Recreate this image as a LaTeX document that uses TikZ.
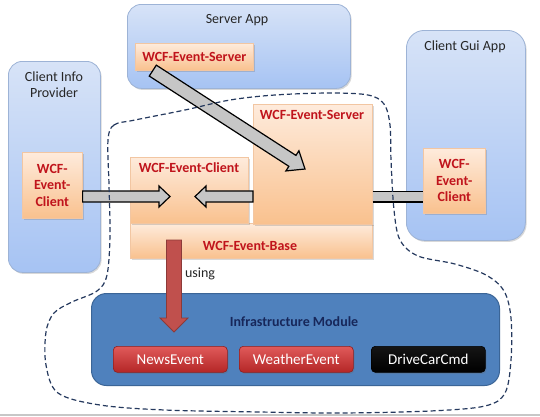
\documentclass[tikz,border=0pt]{standalone}
\usepackage{fontspec}
\setmainfont{Carlito}
\usetikzlibrary{calc,shadows}
\definecolor{apptop}{HTML}{D7E3F7}
\definecolor{appbot}{HTML}{A6C3F3}
\definecolor{appdraw}{HTML}{9DB3D6}
\definecolor{ortop}{HTML}{FEEBDC}
\definecolor{orbot}{HTML}{F9C18E}
\definecolor{ordraw}{HTML}{F2C6A2}
\definecolor{wcfred}{HTML}{C0141C}
\definecolor{infrafill}{HTML}{4F81BD}
\definecolor{infradraw}{HTML}{3B6597}
\definecolor{infratext}{HTML}{17275A}
\definecolor{btntop}{HTML}{E05A5A}
\definecolor{btnbot}{HTML}{B42626}
\definecolor{btndraw}{HTML}{8E1F1F}
\definecolor{arrgray}{HTML}{C6C6C6}
\definecolor{redarr}{HTML}{C0504D}
\definecolor{redarrdraw}{HTML}{8C3A38}
\definecolor{dashc}{HTML}{25395E}
\definecolor{titlec}{HTML}{262626}
% #1 style, #2 prefix, #3 from, #4 to, #5 shaft half width, #6 head half width, #7 head length
\newcommand\blockarrow[7]{%
  \coordinate (#2H) at ($(#4)!#7!(#3)$);
  \draw[#1] ($(#3)!#5!90:(#4)$) -- ($(#2H)!#5!90:(#4)$) -- ($(#2H)!#6!90:(#4)$)
    -- (#4) -- ($(#2H)!#6!-90:(#4)$) -- ($(#2H)!#5!-90:(#4)$) -- ($(#3)!#5!-90:(#4)$) -- cycle;
}
\begin{document}
\begin{tikzpicture}[x=1pt,y=-1pt,
  softshadow/.style={drop shadow={shadow xshift=1.2pt,shadow yshift=-1.5pt,opacity=0.25,fill=black!60}},
  app/.style={draw=appdraw,line width=0.8pt,rounded corners=14pt,top color=apptop,bottom color=appbot,inner sep=0pt,anchor=north west,softshadow},
  orbox/.style={draw=ordraw,line width=0.6pt,top color=ortop,bottom color=orbot,inner sep=0pt,anchor=north west,softshadow},
  ortext/.style={text=wcfred,font=\bfseries\fontsize{14}{16.5}\selectfont,align=center},
  apptitle/.style={text=titlec,font=\fontsize{14}{16}\selectfont,align=center,inner sep=0pt},
  btn/.style={draw=btndraw,line width=0.6pt,rounded corners=4pt,top color=btntop,bottom color=btnbot,
    minimum width=114pt,minimum height=26pt,inner sep=0pt,anchor=north west,text=white,
    font=\fontsize{15}{17}\selectfont,softshadow},
  graya/.style={draw=black,line width=1.2pt,fill=arrgray,line join=miter},
  reda/.style={draw=redarrdraw,line width=0.8pt,fill=redarr},
  dashline/.style={draw=dashc,line width=1.2pt,dash pattern=on 5pt off 3pt}
]
\useasboundingbox (0,0) rectangle (540,416);
\fill[white] (0,0) rectangle (540,416);
\draw[line width=1.5pt,black!22] (0,414.8) -- (540,414.8);

% application containers
\node[app,minimum width=223pt,minimum height=84pt] (srvApp) at (127,4) {};
\node[apptitle] (srvAppT) at (237,20) {Server App};
\node[app,minimum width=92pt,minimum height=211pt] (cipApp) at (8,61) {};
\node[apptitle] (cipT) at (54,85) {Client Info\\Provider};
\node[app,minimum width=119pt,minimum height=210pt,rounded corners=18pt] (guiApp) at (406,30) {};
\node[apptitle] (guiT) at (465,47) {Client Gui App};

% infrastructure module
\node[draw=infradraw,line width=1pt,fill=infrafill,rounded corners=15pt,minimum width=408pt,minimum height=92pt,
  inner sep=0pt,anchor=north west] (infra) at (91,293) {};
\node[text=infratext,font=\bfseries\fontsize{14}{16}\selectfont,inner sep=0pt] (infraT) at (294,322) {Infrastructure Module};
\node[btn] (news) at (113,346) {NewsEvent};
\node[btn] (weather) at (239,346) {WeatherEvent};
\node[btn,draw=black,top color=black!92,bottom color=black] (drive) at (371,346) {DriveCarCmd};

% WCF components
\node[orbox,minimum width=118pt,minimum height=27pt,ortext] (srvS) at (135,43) {WCF-Event-Server};
\node[orbox,minimum width=60pt,minimum height=66pt,ortext] (cliL) at (22,152) {WCF-\\Event-\\Client};
\node[orbox,minimum width=62pt,minimum height=65pt,ortext] (cliR) at (423,148) {WCF-\\Event-\\Client};
\node[orbox,minimum width=242pt,minimum height=35pt] (base) at (130,223) {};
\node[orbox,minimum width=118pt,minimum height=66pt] (cliM) at (130,157) {};
\node[orbox,minimum width=119pt,minimum height=120pt] (srvB) at (253,104) {};
\node[ortext,inner sep=0pt] (baseT) at (250,246) {WCF-Event-Base};
\node[ortext,inner sep=0pt] (cliMT) at (189,168) {WCF-Event-Client};
\node[ortext,inner sep=0pt] (srvBT) at (312,115) {WCF-Event-Server};

% connectors
\fill[arrgray] (srvB.east |- 0,191.5) rectangle (cliR.west |- 0,202);
\draw[black,line width=1.2pt] (srvB.east |- 0,191.5) -- (cliR.west |- 0,191.5)
  (srvB.east |- 0,202) -- (cliR.west |- 0,202);
\coordinate (la0) at (cliL.east |- 0,196.5);
\coordinate (la1) at (170,196.5);
\blockarrow{graya}{la}{la0}{la1}{5.5pt}{10.5pt}{11pt}
\coordinate (ma0) at (srvB.west |- 0,196.5);
\coordinate (ma1) at (195,196.5);
\blockarrow{graya}{ma}{ma0}{ma1}{5.5pt}{10.5pt}{11pt}
\coordinate (da0) at ($(srvS.south west)!0.15!(srvS.south east)$);
\coordinate (da1) at ($(srvB.north west)+(52,65)$);
\blockarrow{graya}{da}{da0}{da1}{6.5pt}{12pt}{15pt}
\coordinate (ra0) at (174,240);
\coordinate (ra1) at (174,332);
\blockarrow{reda}{ra}{ra0}{ra1}{7.5pt}{14pt}{14pt}
\node[apptitle,font=\fontsize{14}{16}\selectfont] (usingT) at (200,274) {using};

% dashed module boundary
\draw[dashline] plot[smooth cycle,tension=0.55] coordinates {
 (108,140) (114,125) (135,120) (185,110) (230,100) (275,95) (330,93) (368,95) (384,104)
 (390,125) (391,160) (394,210) (400,240) (418,256) (455,264) (486,275) (504,291) (511,318)
 (511,360) (505,393) (485,406) (430,411) (340,413) (260,412) (165,410) (100,405) (58,393)
 (46,365) (46,332) (54,313) (72,302) (97,291) (107,275) (110,235) (109,185)};
\end{tikzpicture}
\end{document}
